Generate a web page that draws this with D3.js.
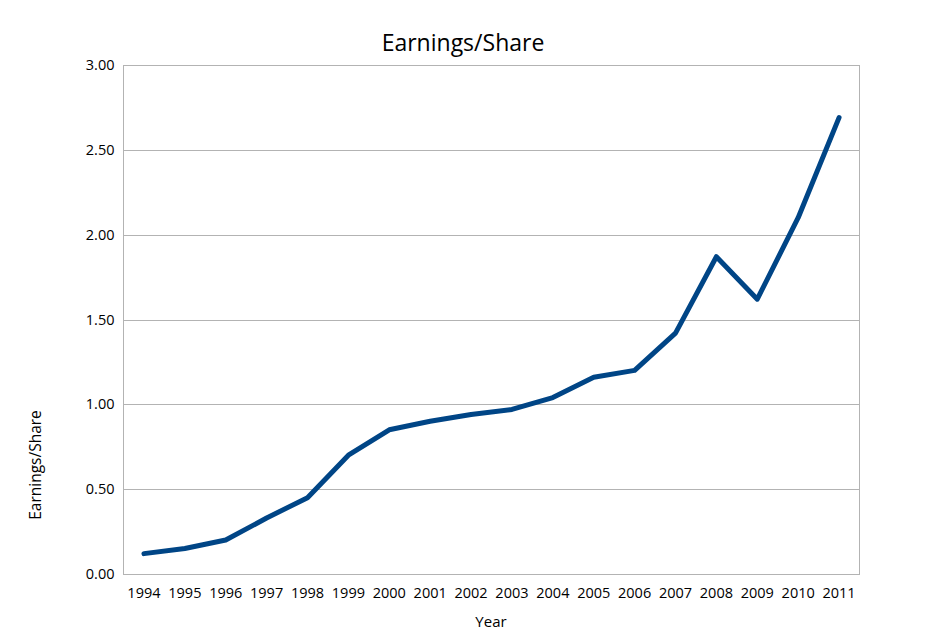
<!DOCTYPE html>
<html><head><meta charset="utf-8">
<script src="https://cdn.jsdelivr.net/npm/d3@7"></script>
<style>body{margin:0;background:#fff;} svg{display:block;} text{font-family:"Open Sans","Noto Sans",sans-serif;fill:#000;}</style>
</head><body>
<script>
const years = ["1994","1995","1996","1997","1998","1999","2000","2001","2002","2003","2004","2005","2006","2007","2008","2009","2010","2011"];
const eps = [0.12,0.15,0.20,0.33,0.45,0.70,0.85,0.90,0.94,0.97,1.04,1.16,1.20,1.42,1.87,1.62,2.10,2.69];
const yTicks = [0,0.5,1,1.5,2,2.5,3];
const title = "Earnings/Share";
const xTitle = "Year";
const yTitle = "Earnings/Share";

const W=940,H=640;
const m={left:123.5,right:859.5,top:65,bottom:574};
const svg=d3.select("body").append("svg").attr("width",W).attr("height",H);
const x=d3.scaleBand().domain(years).range([m.left,m.right]);
const y=d3.scaleLinear().domain([0,3]).range([m.bottom,m.top]);

svg.append("g").selectAll("line").data(yTicks).join("line")
  .attr("x1",m.left).attr("x2",m.right)
  .attr("y1",d=>Math.round(y(d))+0.5).attr("y2",d=>Math.round(y(d))+0.5)
  .attr("stroke","#b3b3b3").attr("stroke-width",1);
svg.append("rect").attr("x",m.left).attr("y",m.top+0.5).attr("width",m.right-m.left).attr("height",m.bottom-m.top)
  .attr("fill","none").attr("stroke","#b3b3b3");

const yAxis=d3.axisLeft(y).tickValues(yTicks).tickFormat(d3.format(".2f")).tickSize(0).tickPadding(9);
const ga=svg.append("g").attr("transform",`translate(${m.left},0)`).call(yAxis);
ga.select(".domain").remove();
ga.selectAll("text").attr("font-size",14.5).attr("font-family",'"Open Sans",sans-serif').attr("fill","#000");

const xAxis=d3.axisBottom(x).tickSize(0).tickPadding(14);
const gx=svg.append("g").attr("transform",`translate(0,${m.bottom})`).call(xAxis);
gx.select(".domain").remove();
gx.selectAll("text").attr("font-size",14.5).attr("font-family",'"Open Sans",sans-serif').attr("fill","#000");

const line=d3.line().x((d,i)=>x(years[i])+x.bandwidth()/2).y(d=>y(d));
svg.append("path").datum(eps).attr("d",line).attr("fill","none")
  .attr("stroke","#004586").attr("stroke-width",5).attr("stroke-linejoin","round").attr("stroke-linecap","round");

svg.append("text").attr("x",463).attr("y",51).attr("text-anchor","middle").attr("font-size",23).text(title);
svg.append("text").attr("x",491).attr("y",627).attr("text-anchor","middle").attr("font-size",15).text(xTitle);
svg.append("text").attr("transform","translate(41,465) rotate(-90)").attr("text-anchor","middle").attr("font-size",15.5).text(yTitle);
</script>
</body></html>
